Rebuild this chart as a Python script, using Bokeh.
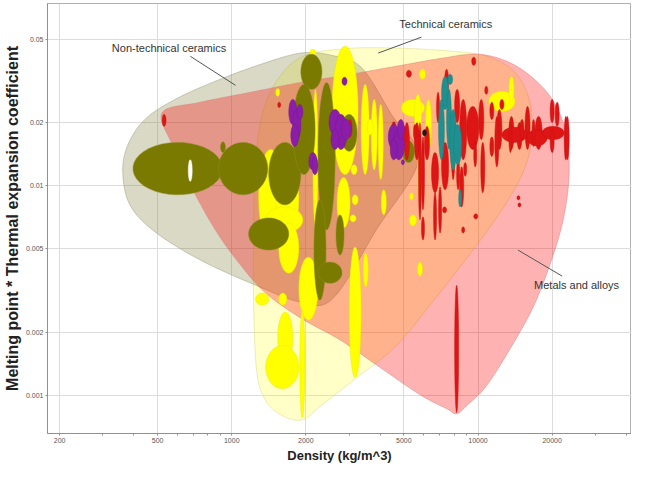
import numpy as np
from bokeh.plotting import figure
from bokeh.models import FixedTicker, CustomJSTickFormatter, Label
from bokeh.embed import file_html
from bokeh.resources import INLINE

# ---------------- envelopes (density kg/m^3, melting point * CTE) ----------------
nontech_rho = [361, 379, 444, 589, 858, 1310, 1908, 2529, 3353, 4446, 5730, 3861, 2577, 1908, 1250, 745, 488, 386]
nontech_val = [0.01164, 0.0157, 0.0207, 0.0258, 0.0315, 0.0379, 0.0429, 0.0419, 0.0367, 0.0219, 0.0133, 0.00616,
               0.00291, 0.00279, 0.00336, 0.00443, 0.00603, 0.00811]

tech_rho = [1227, 1227, 1250, 1348, 1581, 2000, 3052, 4884, 7813, 10857, 13994, 16113, 16575, 15371, 12500, 8997,
            6475, 4660, 3199, 2303, 1944, 1611, 1374, 1262]
tech_val = [0.00285, 0.00616, 0.0133, 0.0231, 0.0336, 0.0419, 0.0452, 0.0452, 0.0438, 0.0414, 0.0351, 0.0258,
            0.0175, 0.0119, 0.00768, 0.00452, 0.00276, 0.00173, 0.00121, 0.000896, 0.000768, 0.000802, 0.000946, 0.00132]

metal_rho = [522, 745, 1193, 1908, 3052, 4884, 7113, 9884, 13101, 16575, 20000, 22600, 23465, 22387, 20000, 16890,
             13732, 10857, 8997, 8189, 7455, 5894, 4047, 2779, 1908, 1374, 1086, 858, 679, 573]
metal_val = [0.02235, 0.025, 0.0279, 0.0311, 0.034, 0.0375, 0.0405, 0.0424, 0.0392, 0.0329, 0.0258, 0.0185, 0.0119,
             0.00727, 0.00452, 0.0027, 0.00173, 0.00112, 0.000896, 0.00082, 0.000867, 0.001, 0.00135, 0.00183,
             0.00234, 0.00308, 0.00419, 0.00616, 0.0101, 0.0157]

# ---------------- material bubbles: ranges (lo/hi) ----------------
olive_rho_lo = [397, 883, 1413, 1908, 1770, 2239, 2156, 2651, 1170, 2239, 2779, 4930, 900]
olive_rho_hi = [917, 1400, 1908, 2325, 2180, 2630, 2414, 2858, 1705, 2805, 3229, 5519, 943]
olive_val_lo = [0.00906, 0.00906, 0.00811, 0.0288, 0.0113, 0.00616, 0.00285, 0.00468, 0.00494, 0.00343, 0.0146, 0.0129, 0.0144]
olive_val_hi = [0.0161, 0.0161, 0.0161, 0.0424, 0.0304, 0.0311, 0.00857, 0.00727, 0.00703, 0.00433, 0.0219, 0.0164, 0.0162]

white_rho_lo = [666]
white_rho_hi = [691]
white_val_lo = [0.0105]
white_val_hi = [0.0133]

yellow_rho_lo = [2553, 2676, 1286, 1509, 1374, 1552, 1873, 2996, 1538, 1374, 1250, 1552, 1890, 3417, 2136, 3353,
                 3684, 3934, 4047, 3548, 3052, 3081, 3024, 4884, 5519, 6120, 5677, 11067, 13351, 7813, 5784, 5677,
                 5265, 5265, 2076, 1509]
yellow_rho_hi = [3259, 3024, 1611, 1873, 1944, 1873, 2239, 3353, 1770, 1873, 1413, 1673, 1981, 3582, 2239, 3616,
                 3897, 4124, 4242, 3754, 3229, 3259, 3199, 6063, 5894, 6475, 5950, 14126, 13994, 8113, 6120, 5950,
                 5624, 5467, 2197, 1566]
yellow_val_lo = [0.0113, 0.0063, 0.00522, 0.00583, 0.00596, 0.00383, 0.00229, 0.00122, 0.00142, 0.00108, 0.0027,
                 0.0027, 0.000785, 0.00329, 0.0063, 0.0113, 0.0119, 0.0107, 0.00727, 0.0175, 0.0113, 0.00811,
                 0.00673, 0.0214, 0.0166, 0.0149, 0.00857, 0.0226, 0.025, 0.0119, 0.0322, 0.00371, 0.00644,
                 0.00857, 0.0414, 0.0267]
yellow_val_hi = [0.0463, 0.01094, 0.0149, 0.0129, 0.00793, 0.00665, 0.00457, 0.00511, 0.0025, 0.00173, 0.00308,
                 0.00308, 0.00255, 0.00478, 0.0288, 0.0304, 0.0258, 0.0244, 0.00957, 0.0207, 0.0126, 0.00906,
                 0.00727, 0.0258, 0.0273, 0.0258, 0.0144, 0.0282, 0.0332, 0.0175, 0.0359, 0.00433, 0.00727,
                 0.00926, 0.0447, 0.0291]

red_rho_lo = [8037, 522, 1538, 2968, 5119, 9430, 7317, 6787, 8037, 8424, 8997, 10070, 11171, 11926, 13351, 14393,
              15519, 17049, 19629, 20572, 22387, 12500, 15814, 18208, 5024, 5519, 6063, 10655, 12267, 5730, 5894,
              6475, 6598, 7113, 7813, 8189, 8424, 8747, 9609, 10262, 11171, 11704, 13351, 14804, 16575, 19629,
              22600, 14393, 14529, 9609, 7180, 8584, 6915, 4446, 4977, 5467, 5894]
red_rho_hi = [8345, 541, 1581, 3081, 5365, 9792, 7596, 6980, 8424, 8997, 10070, 10555, 11595, 12500, 13994, 15085,
              16266, 18208, 20379, 21361, 23028, 15814, 19083, 22387, 5265, 5784, 6355, 10960, 12737, 5894, 6063,
              6915, 6787, 7596, 8037, 8424, 8747, 8997, 9884, 10655, 11595, 12153, 13732, 15371, 17049, 20379,
              23465, 14804, 14943, 9977, 7455, 8829, 7113, 4660, 5119, 5624, 6063]
red_val_lo = [0.000829, 0.0192, 0.0236, 0.0171, 0.0329, 0.0375, 0.0273, 0.02, 0.02, 0.0133, 0.0149, 0.0166, 0.0207,
              0.0149, 0.0149, 0.0149, 0.0149, 0.0149, 0.02, 0.0192, 0.0133, 0.0161, 0.0155, 0.0166, 0.0133, 0.0133,
              0.0133, 0.0273, 0.0231, 0.00688, 0.00768, 0.00926, 0.00552, 0.00957, 0.0107, 0.00957, 0.00793,
              0.0111, 0.0123, 0.00926, 0.0138, 0.0123, 0.0144, 0.0166, 0.0154, 0.0144, 0.0133, 0.00857, 0.00793,
              0.00695, 0.00743, 0.00596, 0.00596, 0.0166, 0.0161, 0.0166, 0.00552]
red_val_hi = [0.00336, 0.0219, 0.025, 0.0207, 0.0355, 0.041, 0.0359, 0.0279, 0.0288, 0.0258, 0.0239, 0.0258, 0.025,
              0.0231, 0.0214, 0.02, 0.0239, 0.0214, 0.0258, 0.025, 0.0214, 0.019, 0.0185, 0.0192, 0.02, 0.02,
              0.0192, 0.0298, 0.0258, 0.02, 0.0171, 0.0144, 0.00926, 0.0161, 0.0161, 0.0133, 0.0123, 0.0129,
              0.0161, 0.0161, 0.0171, 0.0214, 0.02, 0.0207, 0.0207, 0.0185, 0.0214, 0.00896, 0.00829, 0.00735,
              0.00793, 0.00637, 0.00989, 0.0202, 0.0192, 0.0196, 0.00711]

black_rho_lo = [5950]
black_rho_hi = [6178]
black_val_lo = [0.0173]
black_val_hi = [0.0185]

purple_rho_lo = [1705, 1770, 1737, 1837, 2483, 2626, 2779, 2529, 2057, 2116, 4322, 4530, 4704, 4404, 2805, 4884]
purple_rho_hi = [1837, 1908, 1873, 1944, 2779, 2940, 3052, 2728, 2218, 2239, 4793, 5024, 5024, 4704, 2940, 5024]
purple_val_lo = [0.0196, 0.0166, 0.0154, 0.0207, 0.0175, 0.0149, 0.0166, 0.0149, 0.0119, 0.0113, 0.0149, 0.0133,
                 0.0166, 0.0133, 0.0301, 0.0126]
purple_val_hi = [0.0258, 0.0231, 0.0196, 0.0244, 0.0231, 0.0219, 0.0207, 0.0185, 0.0144, 0.01365, 0.0196, 0.0185,
                 0.0207, 0.0166, 0.0329, 0.0133]

teal_rho_lo = [7113, 6915, 7455, 7668, 7961, 8345, 7525]
teal_rho_hi = [7596, 7300, 7800, 8189, 8584, 8584, 7887]
teal_val_lo = [0.0231, 0.0133, 0.0149, 0.0119, 0.0126, 0.00793, 0.0304]
teal_val_hi = [0.0332, 0.0258, 0.0288, 0.0231, 0.0196, 0.00957, 0.034]

# annotation texts and leader lines
label_text = ["Non-technical ceramics", "Technical ceramics", "Metals and alloys"]
label_rho = [326, 4793, 16890]
label_val = [0.0452, 0.0589, 0.00336]
leader_rho0 = [679, 3934, 14529]
leader_val0 = [0.0414, 0.0429, 0.00494]
leader_rho1 = [1036, 5894, 21970]
leader_val1 = [0.0301, 0.0511, 0.00371]

x_ticks = [200, 500, 1000, 2000, 5000, 10000, 20000, 50000]
x_minor = [300, 400, 600, 700, 800, 900, 3000, 4000, 6000, 7000, 8000, 9000, 30000, 40000]
y_ticks = [0.001, 0.002, 0.005, 0.01, 0.02, 0.05]


def smooth_closed(xs, ys, n=14):
    P = np.column_stack([np.log10(xs), np.log10(ys)])
    m = len(P)
    out = []
    for i in range(m):
        p0, p1, p2, p3 = P[(i - 1) % m], P[i], P[(i + 1) % m], P[(i + 2) % m]
        for t in np.linspace(0, 1, n, endpoint=False):
            t2 = t * t
            t3 = t2 * t
            out.append(0.5 * ((2 * p1) + (-p0 + p2) * t + (2 * p0 - 5 * p1 + 4 * p2 - p3) * t2
                              + (-p0 + 3 * p1 - 3 * p2 + p3) * t3))
    out = np.array(out)
    return list(10 ** out[:, 0]), list(10 ** out[:, 1])


def ellipses(rlo, rhi, vlo, vhi, n=40):
    t = np.linspace(0, 2 * np.pi, n)
    xs, ys = [], []
    for a, b, c, d in zip(rlo, rhi, vlo, vhi):
        cx = (np.log10(a) + np.log10(b)) / 2
        rx = (np.log10(b) - np.log10(a)) / 2
        cy = (np.log10(c) + np.log10(d)) / 2
        ry = (np.log10(d) - np.log10(c)) / 2
        xs.append(list(10 ** (cx + rx * np.cos(t))))
        ys.append(list(10 ** (cy + ry * np.sin(t))))
    return xs, ys


p = figure(width=631, height=465, x_axis_type="log", y_axis_type="log",
           x_range=(178.6, 42000), y_range=(0.00066, 0.0739),
           output_backend="svg", toolbar_location=None,
           min_border_left=38, min_border_right=0, min_border_top=3, min_border_bottom=0,
           background_fill_color="white", border_fill_color="white")
p.outline_line_color = "#b0b0b0"

for ax in (p.xaxis[0], p.yaxis[0]):
    ax.axis_line_color = "#909090"
    ax.major_tick_line_color = "#909090"
    ax.minor_tick_line_color = "#909090"
    ax.major_tick_out = 2
    ax.major_tick_in = 0
    ax.minor_tick_out = 2
    ax.minor_tick_in = 0
    ax.major_label_text_font = "Liberation Sans"
    ax.major_label_text_font_size = "7px"
    ax.major_label_text_color = "#555555"
    ax.major_label_standoff = 2
    ax.axis_label_text_font = "Liberation Sans"
    ax.axis_label_text_font_style = "bold"
    ax.axis_label_text_color = "#222222"
    ax.axis_label_standoff = 2
    ax.formatter = CustomJSTickFormatter(code="return tick.toString();")

p.xaxis.ticker = FixedTicker(ticks=x_ticks, minor_ticks=x_minor)
p.yaxis.ticker = FixedTicker(ticks=y_ticks, minor_ticks=[])
p.xaxis.axis_label = "Density (kg/m^3)"
p.yaxis.axis_label = "Melting point * Thermal expansion coefficient"
p.xaxis.axis_label_text_font_size = "13px"
p.yaxis.axis_label_text_font_size = "16px"
p.grid.grid_line_color = "#dcdcdc"
p.grid.grid_line_width = 1

# envelopes
tx, ty = smooth_closed(tech_rho, tech_val)
p.patch(tx, ty, fill_color="#ffff00", fill_alpha=0.22, line_color="#e0e090", line_alpha=0.6, line_width=1)
nx, ny = smooth_closed(nontech_rho, nontech_val)
p.patch(nx, ny, fill_color="#808040", fill_alpha=0.30, line_color="#a0a080", line_alpha=0.5, line_width=1)
mx, my = smooth_closed(metal_rho, metal_val)
p.patch(mx, my, fill_color="#ff0000", fill_alpha=0.30, line_color="#e08080", line_alpha=0.5, line_width=1)

# bubbles
groups = [
    (yellow_rho_lo, yellow_rho_hi, yellow_val_lo, yellow_val_hi, "#ffff00", "#e8e800"),
    (olive_rho_lo, olive_rho_hi, olive_val_lo, olive_val_hi, "#7a7a00", "#8e8e2a"),
    (white_rho_lo, white_rho_hi, white_val_lo, white_val_hi, "#ffffff", "#ffffff"),
    (red_rho_lo, red_rho_hi, red_val_lo, red_val_hi, "#dd1515", "#c81010"),
    (black_rho_lo, black_rho_hi, black_val_lo, black_val_hi, "#1a1a1a", "#1a1a1a"),
    (teal_rho_lo, teal_rho_hi, teal_val_lo, teal_val_hi, "#1f8f8f", "#1a8080"),
    (purple_rho_lo, purple_rho_hi, purple_val_lo, purple_val_hi, "#8a1ea8", "#7a1498"),
]
for rlo, rhi, vlo, vhi, fc, lc in groups:
    xs, ys = ellipses(rlo, rhi, vlo, vhi)
    p.patches(xs, ys, fill_color=fc, fill_alpha=1.0, line_color=lc, line_width=0.6, line_alpha=0.8)

# leader lines and labels
p.segment(x0=leader_rho0, y0=leader_val0, x1=leader_rho1, y1=leader_val1, line_color="#555555", line_width=1)
for txt, xr, yv in zip(label_text, label_rho, label_val):
    p.add_layout(Label(x=xr, y=yv, text=txt, text_font="Liberation Sans", text_font_size="11px",
                       text_color="#333333", text_baseline="middle", text_align="left"))

open("out.html", "w").write(file_html(p, INLINE))
